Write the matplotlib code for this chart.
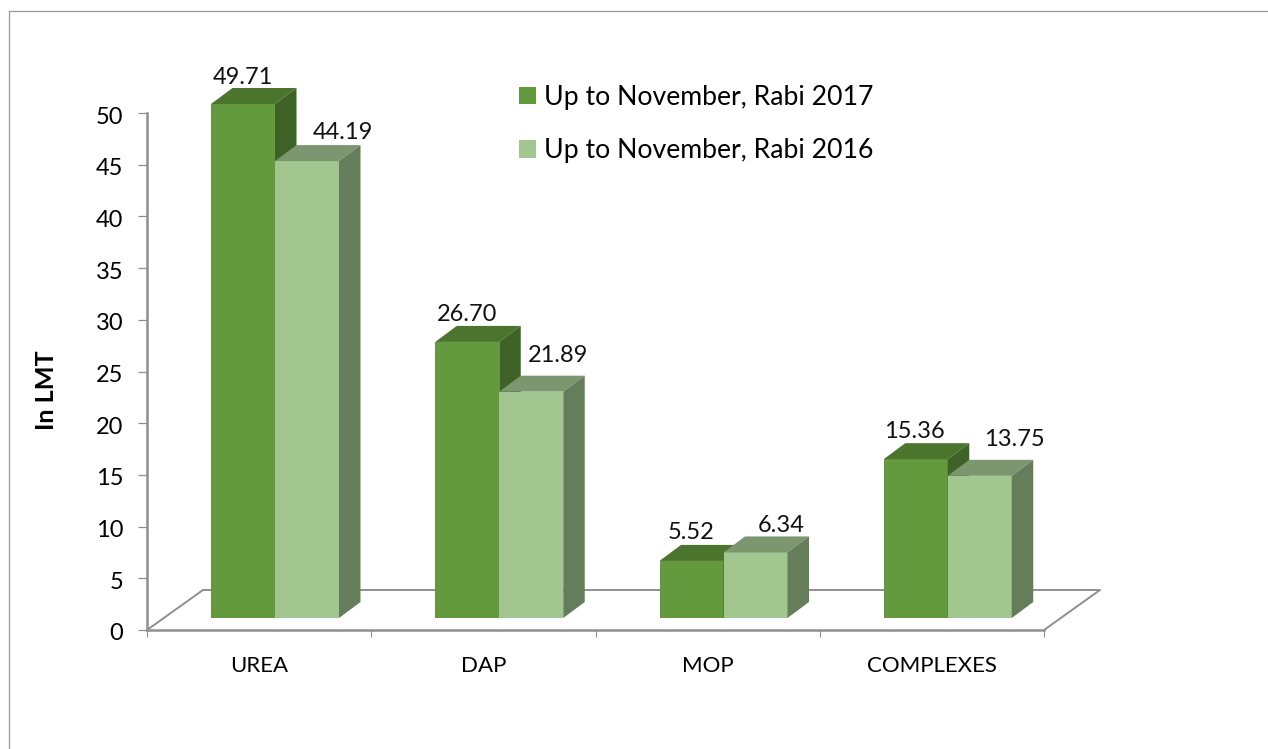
import matplotlib.pyplot as plt
from matplotlib.lines import Line2D
from matplotlib.patches import Patch, Polygon
from matplotlib.transforms import ScaledTranslation

categories = ["UREA", "DAP", "MOP", "COMPLEXES"]
rabi_2017 = [49.71, 26.70, 5.52, 15.36]
rabi_2016 = [44.19, 21.89, 6.34, 13.75]
value_ticks = [0, 5, 10, 15, 20, 25, 30, 35, 40, 45, 50]

FIG_W, FIG_H = 1268, 749
AX_LEFT, AX_RIGHT, AX_TOP, AX_BOTTOM = 147, 1044, 113, 630
PX_X = 4 / (AX_RIGHT - AX_LEFT)  # data units per pixel
PX_Y = 50 / (AX_BOTTOM - AX_TOP)

BAR_W = 64 * PX_X
BAR_START = 64 * PX_X
BASE = 12 * PX_Y
DEPTH_X = 21.5 * PX_X
DEPTH_Y = 16 * PX_Y
GREY = "#8f8f8f"

# colours: front, top, side
DARK = ("#639a3d", "#4b742c", "#3f6226")
LIGHT = ("#a2c68f", "#7c9670", "#667d5b")

plt.rcParams["font.family"] = ["Lato", "DejaVu Sans"]

fig = plt.figure(figsize=(FIG_W / 100, FIG_H / 100), dpi=100)
ax = fig.add_axes(
    [
        AX_LEFT / FIG_W,
        1 - AX_BOTTOM / FIG_H,
        (AX_RIGHT - AX_LEFT) / FIG_W,
        (AX_BOTTOM - AX_TOP) / FIG_H,
    ]
)
ax.set_xlim(0, 4)
ax.set_ylim(0, 50)

# outer frame, only top and left show in the picture
fig.add_artist(Line2D([9 / FIG_W, 9 / FIG_W], [0, 1 - 11 / FIG_H], color="#999999", lw=0.9))
fig.add_artist(Line2D([9 / FIG_W, 1], [1 - 11 / FIG_H, 1 - 11 / FIG_H], color="#999999", lw=0.9))

# floor
floor_dx = 56 * PX_X
floor_dy = 40 * PX_Y
ax.plot(
    [0, floor_dx, 4 + floor_dx, 4],
    [0, floor_dy, floor_dy, 0],
    color=GREY,
    lw=1.4,
    clip_on=False,
    zorder=1,
)


def draw_bar(x, value, colors):
    front, top, side = colors
    y0 = BASE
    y1 = BASE + value
    x1 = x + BAR_W
    faces = [
        ([(x, y0), (x1, y0), (x1, y1), (x, y1)], front),
        ([(x, y1), (x1, y1), (x1 + DEPTH_X, y1 + DEPTH_Y), (x + DEPTH_X, y1 + DEPTH_Y)], top),
        ([(x1, y0), (x1 + DEPTH_X, y0 + DEPTH_Y), (x1 + DEPTH_X, y1 + DEPTH_Y), (x1, y1)], side),
    ]
    for pts, color in faces:
        ax.add_patch(Polygon(pts, closed=True, facecolor=color, edgecolor="none", clip_on=False, zorder=2))


# label shift from the middle of the bar front, in pixels
offsets_2017 = [(0, 26), (0, 27), (0, 28), (-1, 28)]
offsets_2016 = [(36, 29), (27, 36), (26, 27), (35, 36)]

for i in range(len(categories)):
    x_a = i + BAR_START
    x_b = x_a + BAR_W
    draw_bar(x_a, rabi_2017[i], DARK)
    draw_bar(x_b, rabi_2016[i], LIGHT)
    for x, value, off in [
        (x_a, rabi_2017[i], offsets_2017[i]),
        (x_b, rabi_2016[i], offsets_2016[i]),
    ]:
        ax.annotate(
            f"{value:.2f}",
            (x + BAR_W / 2, BASE + value),
            xytext=off,
            textcoords="offset pixels",
            ha="center",
            va="center",
            fontsize=17,
            color="#111111",
            annotation_clip=False,
            zorder=3,
        )

for side in ["top", "right"]:
    ax.spines[side].set_visible(False)
for side in ["left", "bottom"]:
    ax.spines[side].set_color(GREY)
    ax.spines[side].set_linewidth(1.8)
    ax.spines[side].set_zorder(1.5)

ax.set_yticks(value_ticks)
ax.tick_params(axis="y", direction="out", length=6.5, width=0.9, color=GREY, labelsize=17, pad=10.5)
# digits sit a bit below their tick in the reference
shift_down = ScaledTranslation(0, -0.02, fig.dpi_scale_trans)
for label in ax.get_yticklabels():
    label.set_transform(label.get_transform() + shift_down)

ax.set_xticks(range(5))
ax.set_xticklabels([])
ax.tick_params(axis="x", which="major", direction="out", length=5, width=0.8, color=GREY)
ax.set_xticks([i + 0.5 for i in range(4)], minor=True)
ax.set_xticklabels(categories, minor=True, fontsize=16)
ax.tick_params(axis="x", which="minor", length=0, pad=19)

fig.text(46 / FIG_W, 1 - 390 / FIG_H, "In LMT", rotation=90, ha="center", va="center", fontsize=18.2, fontweight="bold")

FS = 19.2
ax.legend(
    handles=[Patch(facecolor=DARK[0]), Patch(facecolor=LIGHT[0])],
    labels=["Up to November, Rabi 2017", "Up to November, Rabi 2016"],
    loc="upper left",
    bbox_to_anchor=(519 / FIG_W, 1 - 85 / FIG_H),
    bbox_transform=fig.transFigure,
    frameon=False,
    fontsize=FS,
    handlelength=12.2 / FS,
    handleheight=12.2 / FS,
    handletextpad=0.29,
    labelspacing=1.06,
    borderpad=0,
    borderaxespad=0,
)

fig.savefig("out.png", dpi=100)
plt.close(fig)
